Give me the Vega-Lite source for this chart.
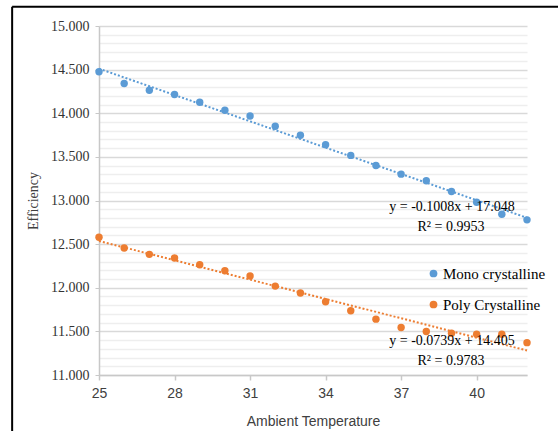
{
  "$schema": "https://vega.github.io/schema/vega-lite/v6.json",
  "width": 428,
  "height": 349,
  "autosize": {"type": "none"},
  "padding": {"left": 99, "top": 26, "right": 31, "bottom": 56},
  "background": "white",
  "config": {"view": {"stroke": null}},
  "datasets": {
    "eff": [
      {"t": 25, "eff": 14.475, "type": "Mono crystalline"},
      {"t": 26, "eff": 14.341, "type": "Mono crystalline"},
      {"t": 27, "eff": 14.264, "type": "Mono crystalline"},
      {"t": 28, "eff": 14.215, "type": "Mono crystalline"},
      {"t": 29, "eff": 14.126, "type": "Mono crystalline"},
      {"t": 30, "eff": 14.034, "type": "Mono crystalline"},
      {"t": 31, "eff": 13.969, "type": "Mono crystalline"},
      {"t": 32, "eff": 13.851, "type": "Mono crystalline"},
      {"t": 33, "eff": 13.747, "type": "Mono crystalline"},
      {"t": 34, "eff": 13.640, "type": "Mono crystalline"},
      {"t": 35, "eff": 13.517, "type": "Mono crystalline"},
      {"t": 36, "eff": 13.402, "type": "Mono crystalline"},
      {"t": 37, "eff": 13.302, "type": "Mono crystalline"},
      {"t": 38, "eff": 13.226, "type": "Mono crystalline"},
      {"t": 39, "eff": 13.103, "type": "Mono crystalline"},
      {"t": 40, "eff": 12.980, "type": "Mono crystalline"},
      {"t": 41, "eff": 12.843, "type": "Mono crystalline"},
      {"t": 42, "eff": 12.778, "type": "Mono crystalline"},
      {"t": 25, "eff": 12.578, "type": "Poly Crystalline"},
      {"t": 26, "eff": 12.456, "type": "Poly Crystalline"},
      {"t": 27, "eff": 12.383, "type": "Poly Crystalline"},
      {"t": 28, "eff": 12.341, "type": "Poly Crystalline"},
      {"t": 29, "eff": 12.264, "type": "Poly Crystalline"},
      {"t": 30, "eff": 12.195, "type": "Poly Crystalline"},
      {"t": 31, "eff": 12.134, "type": "Poly Crystalline"},
      {"t": 32, "eff": 12.019, "type": "Poly Crystalline"},
      {"t": 33, "eff": 11.939, "type": "Poly Crystalline"},
      {"t": 34, "eff": 11.839, "type": "Poly Crystalline"},
      {"t": 35, "eff": 11.736, "type": "Poly Crystalline"},
      {"t": 36, "eff": 11.640, "type": "Poly Crystalline"},
      {"t": 37, "eff": 11.544, "type": "Poly Crystalline"},
      {"t": 38, "eff": 11.498, "type": "Poly Crystalline"},
      {"t": 39, "eff": 11.479, "type": "Poly Crystalline"},
      {"t": 40, "eff": 11.468, "type": "Poly Crystalline"},
      {"t": 41, "eff": 11.468, "type": "Poly Crystalline"},
      {"t": 42, "eff": 11.371, "type": "Poly Crystalline"}
    ]
  },
  "resolve": {"axis": {"y": "independent", "x": "independent"}},
  "layer": [
    {
      "data": {"name": "eff"},
      "mark": {"type": "circle", "opacity": 0},
      "encoding": {
        "x": {"field": "t", "type": "quantitative", "scale": {"domain": [25, 42], "nice": false, "zero": false}, "axis": null},
        "y": {
          "field": "eff", "type": "quantitative",
          "scale": {"domain": [11, 15], "nice": false, "zero": false},
          "axis": {
            "orient": "right",
            "values": [11.1, 11.2, 11.3, 11.4, 11.6, 11.7, 11.8, 11.9, 12.1, 12.2, 12.3, 12.4, 12.6, 12.7, 12.8, 12.9, 13.1, 13.2, 13.3, 13.4, 13.6, 13.7, 13.8, 13.9, 14.1, 14.2, 14.3, 14.4, 14.6, 14.7, 14.8, 14.9],
            "grid": true, "gridColor": "#eeeeee", "gridWidth": 1.5,
            "labels": false, "ticks": false, "domain": false, "title": null
          }
        }
      }
    },
    {
      "layer": [
        {
          "data": {"name": "eff"},
          "mark": {"type": "circle", "size": 55, "opacity": 1},
          "encoding": {
            "x": {
              "field": "t", "type": "quantitative",
              "scale": {"domain": [25, 42], "nice": false, "zero": false},
              "axis": {
                "values": [25, 28, 31, 34, 37, 40],
                "labelFlush": false,
                "title": "Ambient Temperature",
                "titleFont": "Liberation Sans", "titleFontSize": 14, "titleFontWeight": "normal",
                "titleColor": "#404040", "titlePadding": 14,
                "labelFont": "Liberation Sans", "labelFontSize": 14, "labelColor": "#404040",
                "labelPadding": 6,
                "grid": false, "domainColor": "#c8c8c8", "domainWidth": 1.5, "tickColor": "#c8c8c8", "tickWidth": 1.5, "tickSize": 5
              }
            },
            "y": {
              "field": "eff", "type": "quantitative",
              "scale": {"domain": [11, 15], "nice": false, "zero": false},
              "axis": {
                "values": [11, 11.5, 12, 12.5, 13, 13.5, 14, 14.5, 15],
                "format": ".3f",
                "labelOverlap": false,
                "labelFlush": false,
                "title": "Efficiency",
                "titleFont": "Liberation Serif", "titleFontSize": 14, "titleFontWeight": "normal",
                "titleColor": "#404040", "titlePadding": 10,
                "labelFont": "Liberation Serif", "labelFontSize": 14, "labelColor": "#333333",
                "labelPadding": 6,
                "grid": true, "gridColor": "#d9d9d9", "gridWidth": 1.5,
                "domainColor": "#c8c8c8", "domainWidth": 1.5,
                "tickColor": "#c8c8c8", "tickSize": 4
              }
            },
            "color": {
              "field": "type", "type": "nominal",
              "scale": {"domain": ["Mono crystalline", "Poly Crystalline"], "range": ["#5b9bd5", "#ed7d31"]},
              "legend": {
                "title": null, "orient": "none", "legendX": 327, "legendY": 240,
                "labelFont": "Liberation Serif", "labelFontSize": 15, "labelColor": "#000000",
                "symbolType": "circle", "symbolSize": 60, "symbolOpacity": 1,
                "rowPadding": 15, "labelOffset": 2
              }
            }
          }
        },
        {
          "data": {"name": "eff"},
          "transform": [
            {"filter": "datum.type == 'Mono crystalline'"},
            {"regression": "eff", "on": "t", "extent": [25, 42]}
          ],
          "mark": {"type": "line", "strokeDash": [2, 2], "strokeWidth": 2, "color": "#5b9bd5"},
          "encoding": {
            "x": {"field": "t", "type": "quantitative"},
            "y": {"field": "eff", "type": "quantitative"}
          }
        },
        {
          "data": {"name": "eff"},
          "transform": [
            {"filter": "datum.type == 'Poly Crystalline'"},
            {"regression": "eff", "on": "t", "extent": [25, 42]}
          ],
          "mark": {"type": "line", "strokeDash": [2, 2], "strokeWidth": 2, "color": "#ed7d31"},
          "encoding": {
            "x": {"field": "t", "type": "quantitative"},
            "y": {"field": "eff", "type": "quantitative"}
          }
        },
        {
          "data": {"values": [{}]},
          "mark": {"type": "text", "font": "Liberation Serif", "fontSize": 14, "color": "#000000"},
          "encoding": {"x": {"datum": 39.02}, "y": {"datum": 12.923}, "text": {"value": "y = -0.1008x + 17.048"}}
        },
        {
          "data": {"values": [{}]},
          "mark": {"type": "text", "font": "Liberation Serif", "fontSize": 14, "color": "#000000"},
          "encoding": {"x": {"datum": 38.98}, "y": {"datum": 12.693}, "text": {"value": "R² = 0.9953"}}
        },
        {
          "data": {"values": [{}]},
          "mark": {"type": "text", "font": "Liberation Serif", "fontSize": 14, "color": "#000000"},
          "encoding": {"x": {"datum": 39.02}, "y": {"datum": 11.391}, "text": {"value": "y = -0.0739x + 14.405"}}
        },
        {
          "data": {"values": [{}]},
          "mark": {"type": "text", "font": "Liberation Serif", "fontSize": 14, "color": "#000000"},
          "encoding": {"x": {"datum": 38.98}, "y": {"datum": 11.161}, "text": {"value": "R² = 0.9783"}}
        },
        {
          "data": {"values": [{}]},
          "mark": {"type": "rule", "color": "#000000", "strokeWidth": 2, "clip": false},
          "encoding": {"x": {"datum": 21.55}, "y": {"datum": 15.22}, "y2": {"datum": 10.3}}
        },
        {
          "data": {"values": [{}]},
          "mark": {"type": "rule", "color": "#000000", "strokeWidth": 2, "clip": false},
          "encoding": {"y": {"datum": 15.22}, "x": {"datum": 21.55}, "x2": {"datum": 43.3}}
        }
      ]
    }
  ]
}
